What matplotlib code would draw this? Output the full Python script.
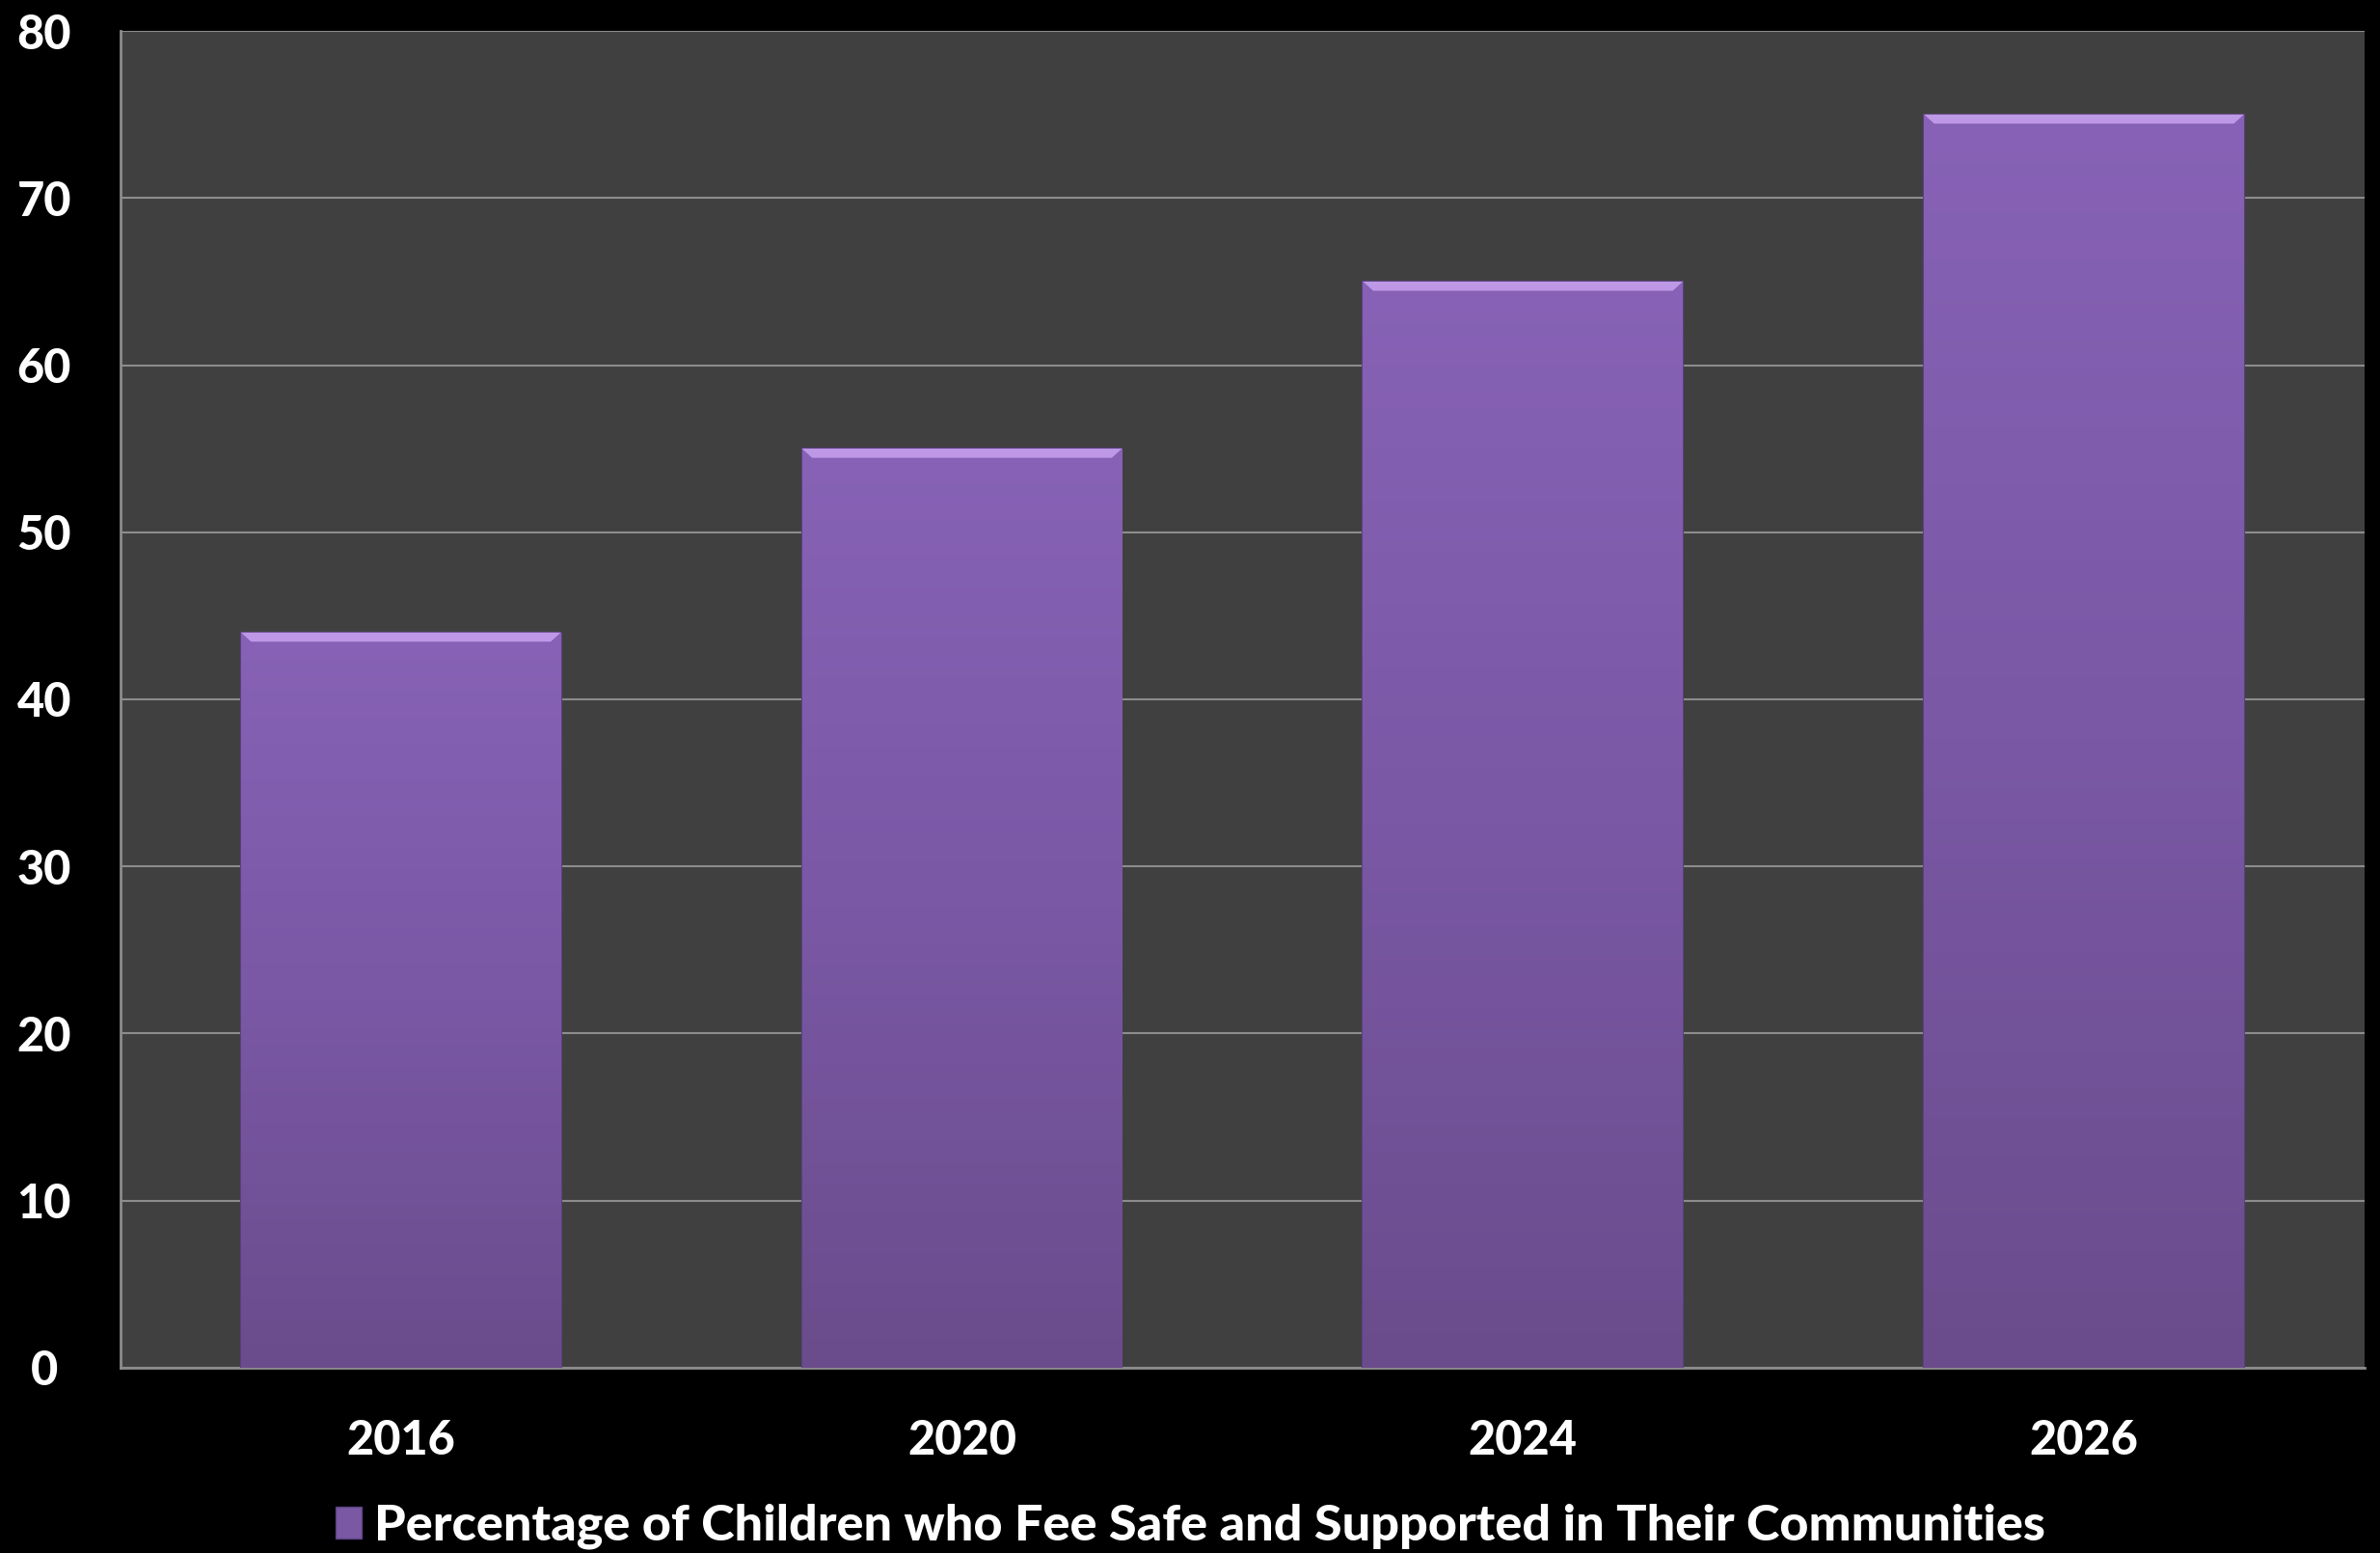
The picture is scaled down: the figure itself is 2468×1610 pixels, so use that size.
import numpy as np
import matplotlib.pyplot as plt
from matplotlib.colors import LinearSegmentedColormap
from matplotlib.patches import Polygon, Rectangle

years = ["2016", "2020", "2024", "2026"]
values = [44, 55, 65, 75]
series_name = "Percentage of Children who Fee Safe and Supported in Their Communities"
y_ticks = [0, 10, 20, 30, 40, 50, 60, 70, 80]

plt.rcParams["font.family"] = ["Lato", "DejaVu Sans"]

fig = plt.figure(figsize=(24.68, 16.10), dpi=100, facecolor="black")
ax = fig.add_axes([0.0506, 0.1193, 0.9429, 0.8608])
ax.set_facecolor("#404040")

x = np.arange(len(years))
width = 0.57
bars = ax.bar(x, values, width=width, color="#7a58a4", edgecolor="#5a4080",
              linewidth=1.5, zorder=3)

# vertical gradient inside each bar, light at top, darker at bottom
cmap = LinearSegmentedColormap.from_list("bar", ["#6a4c8c", "#7a58a5", "#8762b6"])
grad = np.linspace(0, 1, 256).reshape(-1, 1)
for b, v in zip(bars, values):
    x0 = b.get_x()
    im = ax.imshow(grad, extent=[x0, x0 + width, 0, v], origin="lower",
                   aspect="auto", cmap=cmap, zorder=3.5)
    im.set_clip_path(b)
    # bevel highlight along the top edge
    dx, dy = 0.018, 0.55
    bevel = Polygon([[x0, v], [x0 + width, v], [x0 + width - dx, v - dy], [x0 + dx, v - dy]],
                    closed=True, facecolor="#c9a3ef", edgecolor="none", alpha=0.85, zorder=4)
    ax.add_patch(bevel)

ax.set_xlim(-0.5, len(years) - 0.5)
ax.set_ylim(0, 80)
ax.set_yticks(y_ticks)
ax.set_xticks(x)
ax.set_xticklabels(years)
ax.grid(axis="y", color="#8c8c8c", linewidth=1.5, zorder=1)
ax.set_axisbelow(True)

for side in ["top", "right"]:
    ax.spines[side].set_visible(False)
for side in ["left", "bottom"]:
    ax.spines[side].set_color("#8c8c8c")
    ax.spines[side].set_linewidth(2)

ax.tick_params(axis="both", length=0, colors="white", labelsize=35)
ax.tick_params(axis="y", pad=57)
ax.tick_params(axis="x", pad=38)
for lbl in ax.get_yticklabels():
    lbl.set_horizontalalignment("center")
    lbl.set_fontweight("black")
for lbl in ax.get_xticklabels():
    lbl.set_fontweight("black")

handle = Rectangle((0, 0), 1, 1, facecolor="#7a58a4", edgecolor="#5a4080")
leg = fig.legend([handle], [series_name], loc="center", bbox_to_anchor=(0.5, 0.017),
                 frameon=False, fontsize=37.5, handlelength=0.52, handleheight=0.6,
                 handletextpad=0.25, labelcolor="white")
for t in leg.get_texts():
    t.set_fontweight("black")

fig.savefig("out.png", dpi=100, facecolor="black")
